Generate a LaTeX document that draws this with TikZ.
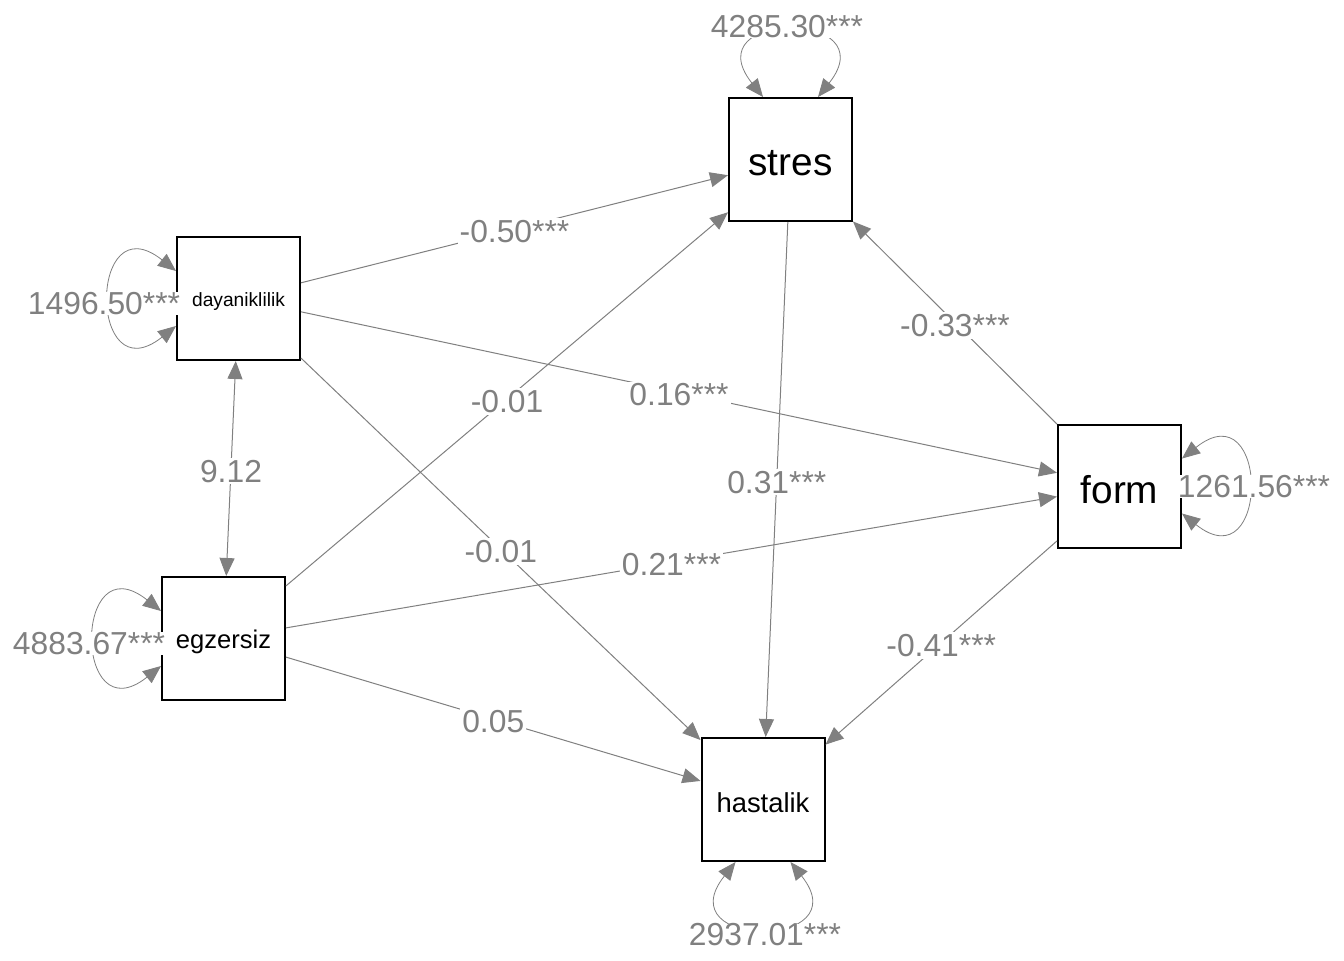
\documentclass[tikz,border=0pt]{standalone}
\usepackage{fontspec}
\setmainfont{Liberation Sans}
\usetikzlibrary{arrows.meta,calc}
\newcommand{\dnt}[1]{\raisebox{-1.6pt}[\height][\depth]{#1}}
\begin{document}
\begin{tikzpicture}[x=0.5pt,y=-0.5pt,
  var/.style={draw=black,line width=1pt,minimum width=61.5pt,minimum height=61.5pt,inner sep=0pt,text=black},
  reg/.style={draw=gray,line width=0.5pt,-{Triangle[length=9pt,width=7.5pt]}},
  cov/.style={draw=gray,line width=0.5pt,{Triangle[length=9pt,width=7.5pt]}-{Triangle[length=9pt,width=7.5pt]}},
  vloop/.style={draw=gray,line width=0.4pt,{Triangle[length=9pt,width=7.5pt]}-{Triangle[length=9pt,width=7.5pt]}},
  lbl/.style={fill=white,text=gray,font=\fontsize{15.9}{18}\selectfont,inner sep=1pt,yshift=-1.3pt},
  vlbl/.style={fill=white,text=gray,font=\fontsize{15.9}{18}\selectfont,inner sep=0pt}]
\useasboundingbox (0,0) rectangle (1344,960);
\fill[white] (0,0) rectangle (1344,960);
% variables
\node[var,font=\fontsize{19.4}{22}\selectfont] (stres) at (790.5,159.5) {\dnt{stres}};
\node[var,font=\fontsize{9.6}{11}\selectfont] (day) at (238.5,298.5) {\dnt{dayaniklilik}};
\node[var,font=\fontsize{12.8}{15}\selectfont] (egz) at (223.5,638.5) {\dnt{egzersiz}};
\node[var,font=\fontsize{19.4}{22}\selectfont] (form) at (1119.5,486) {\dnt{form}};
\node[var,font=\fontsize{13.7}{16}\selectfont] (hast) at (763,799.5) {\dnt{hastalik}};
% paths
\draw[reg] (day) -- node[lbl] (l1) {-0.50***} (stres);
\draw[reg] (day) -- node[lbl] (l2) {0.16***} (form);
\draw[reg] (day) -- node[lbl] (l3) {-0.01} (hast);
\draw[cov] (day) -- node[lbl] (l4) {9.12} (egz);
\draw[reg] (egz) -- node[lbl] (l5) {-0.01} (stres);
\draw[reg] (egz) -- node[lbl] (l6) {0.21***} (form);
\draw[reg] (egz) -- node[lbl] (l7) {0.05} (hast);
\draw[reg] (stres) -- node[lbl] (l8) {0.31***} (hast);
\draw[reg] (form) -- node[lbl] (l9) {-0.33***} (stres);
\draw[reg] (form) -- node[lbl] (l10) {-0.41***} (hast);
% variance loops
\draw[vloop] ($(stres.north)+(-27.5,0)$) .. controls +(-70,-88) and +(70,-88) .. ($(stres.north)+(27.5,0)$);
\draw[vloop] ($(day.west)+(0,-27.5)$) .. controls +(-88,-70) and +(-88,70) .. ($(day.west)+(0,27.5)$);
\draw[vloop] ($(egz.west)+(0,-27.5)$) .. controls +(-88,-70) and +(-88,70) .. ($(egz.west)+(0,27.5)$);
\draw[vloop] ($(form.east)+(0,-27.5)$) .. controls +(88,-70) and +(88,70) .. ($(form.east)+(0,27.5)$);
\draw[vloop] ($(hast.south)+(-27.5,0)$) .. controls +(-70,88) and +(70,88) .. ($(hast.south)+(27.5,0)$);
\node[vlbl] (v1) at (787,27) {4285.30***};
\node[vlbl] (v2) at (104,303.5) {1496.50***};
\node[vlbl] (v3) at (89,643.5) {4883.67***};
\node[vlbl] (v4) at (1254,486.5) {1261.56***};
\node[vlbl] (v5) at (765,935) {2937.01***};
\end{tikzpicture}
\end{document}
